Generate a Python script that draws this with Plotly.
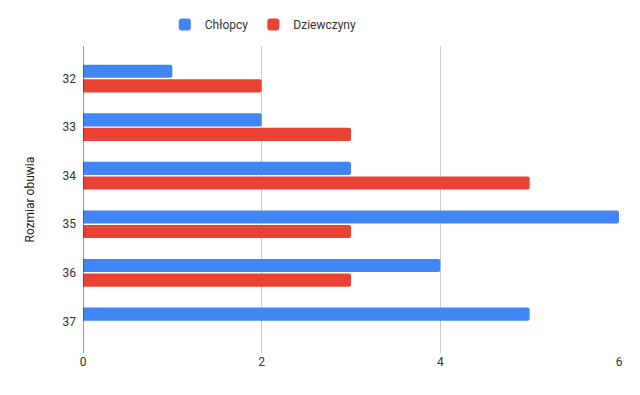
import plotly.graph_objects as go

categories = ["32", "33", "34", "35", "36", "37"]
chlopcy = [1, 2, 3, 6, 4, 5]
dziewczyny = [2, 3, 5, 3, 3, 0]
x_ticks = [0, 2, 4, 6]

ML, MR, MT, MB = 75, 29, 38, 50

fig = go.Figure()
fig.add_trace(go.Bar(y=categories, x=chlopcy, orientation="h", name="Chłopcy",
                     marker=dict(color="#4285F4", line=dict(width=0))))
fig.add_trace(go.Bar(y=categories, x=dziewczyny, orientation="h", name="Dziewczyny",
                     marker=dict(color="#EA4335", line=dict(width=0))))

fig.update_layout(
    width=640, height=395,
    margin=dict(l=ML, r=MR, t=MT, b=MB, autoexpand=False),
    paper_bgcolor="white", plot_bgcolor="white",
    font=dict(family="Roboto, Arial, sans-serif", size=12, color="#444"),
    barmode="group", bargap=0.4, bargroupgap=0.1, barcornerradius=2,
    showlegend=True,
    legend=dict(orientation="h", xref="container", yref="container",
                x=0.245, xanchor="left", y=0.958, yanchor="middle",
                font=dict(size=12, color="#333"), itemwidth=30, traceorder="normal"),
    xaxis=dict(range=[0, 6], tickvals=x_ticks, showgrid=True, gridcolor="#cccccc",
               zeroline=False, showline=False, ticks="", automargin=False,
               tickfont=dict(size=12, color="#333")),
    yaxis=dict(type="category", range=[5.65, -0.67], showgrid=False, zeroline=False,
               showline=False, ticks="", ticksuffix="  ", automargin=False,
               tickfont=dict(size=12, color="#333")),
    shapes=[dict(type="line", xref="x", yref="paper", x0=0, x1=0, y0=0, y1=1,
                 line=dict(color="#333333", width=1))],
    annotations=[dict(text="Rozmiar obuwia", xref="paper", yref="paper",
                      x=(29 - 8 - ML) / (640 - ML - MR), xanchor="center",
                      y=0.5, yanchor="middle", textangle=-90, showarrow=False,
                      font=dict(size=12, color="#222"))],
)

fig.write_html("out.html")
